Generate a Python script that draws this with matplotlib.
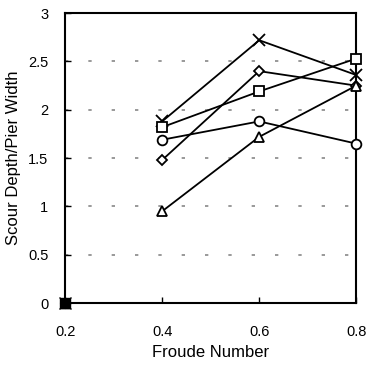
import matplotlib
matplotlib.use("Agg")
import matplotlib.pyplot as plt

# Datos
froude = [0.4, 0.6, 0.8]
serie_x = [1.88, 2.72, 2.36]
serie_cuadro = [1.82, 2.19, 2.53]
serie_rombo = [1.48, 2.40, 2.25]
serie_circulo = [1.69, 1.88, 1.65]
serie_triangulo = [0.95, 1.72, 2.25]
origen_x = 0.2
origen_y = 0.0

plt.rcParams["font.family"] = ["Liberation Sans", "DejaVu Sans"]

fig = plt.figure(figsize=(3.68, 3.66), dpi=100)
ax = fig.add_axes([0.177, 0.172, 0.791, 0.792])

estilos = [
    (serie_x, "x", 8),
    (serie_cuadro, "s", 7),
    (serie_rombo, "D", 5),
    (serie_circulo, "o", 7),
    (serie_triangulo, "^", 7),
]
for ys, m, ms in estilos:
    ax.plot(froude, ys, color="black", lw=1.3, marker=m, ms=ms,
            mfc="white" if m != "x" else "black", mec="black", mew=1.3,
            clip_on=False, zorder=3)
    ax.plot([origen_x], [origen_y], color="black", marker=m, ms=ms,
            mfc="black", mec="black", clip_on=False, zorder=4)

ax.set_xlim(0.2, 0.8)
ax.set_ylim(0, 3)
ax.set_xticks([0.2, 0.4, 0.6, 0.8])
ax.set_xticklabels(["0.2", "0.4", "0.6", "0.8"])
ax.set_yticks([0, 0.5, 1, 1.5, 2, 2.5, 3])
ax.set_yticklabels(["0", "0.5", "1", "1.5", "2", "2.5", "3"])
ax.tick_params(direction="in", length=4, labelsize=10.5, width=1)
ax.tick_params(axis="x", pad=16)
ax.tick_params(axis="y", pad=12)
ax.yaxis.grid(True, color="#888888", linestyle=(0, (2, 12)), lw=1.2)
ax.set_axisbelow(True)
for s in ax.spines.values():
    s.set_linewidth(1.5)

ax.set_xlabel("Froude Number", fontsize=12, labelpad=4)
ax.set_ylabel("Scour Depth/Pier Width", fontsize=12, labelpad=5)

fig.savefig("out.png", dpi=100)
